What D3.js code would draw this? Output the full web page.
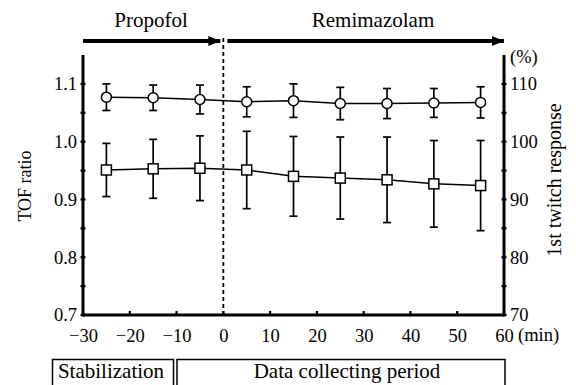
<!DOCTYPE html>
<html><head><meta charset="utf-8">
<script src="https://cdn.jsdelivr.net/npm/d3@7"></script>
<style>
html,body{margin:0;padding:0;background:#fff;}
svg{display:block;}
svg text{font-family:"Liberation Serif","Times New Roman",serif;}
</style></head>
<body><svg id="c" width="576" height="385"></svg>
<script>
const times = [-25, -15, -5, 5, 15, 25, 35, 45, 55];
const tofMean = [1.077, 1.076, 1.073, 1.069, 1.071, 1.066, 1.066, 1.067, 1.068];
const tofSD = [0.023, 0.022, 0.025, 0.026, 0.029, 0.028, 0.026, 0.025, 0.027];
const twitchMean = [95.1, 95.3, 95.4, 95.1, 94.0, 93.7, 93.4, 92.7, 92.4];
const twitchSD = [4.6, 5.1, 5.6, 6.7, 6.9, 7.1, 7.4, 7.5, 7.8];
const xTicks = [-30, -20, -10, 0, 10, 20, 30, 40, 50, 60];
const leftTicks = [0.7, 0.8, 0.9, 1.0, 1.1];
const leftMinor = [0.75, 0.85, 0.95, 1.05];
const rightTicks = [70, 80, 90, 100, 110];
const rightMinor = [75, 85, 95, 105];
const phases = ["Propofol", "Remimazolam"];
const periods = ["Stabilization", "Data collecting period"];

const svg = d3.select("#c");
const x = d3.scaleLinear().domain([-30, 60]).range([83, 504]);
const yL = d3.scaleLinear().domain([0.7, 1.15]).range([315, 55]);
const yR = d3.scaleLinear().domain([70, 115]).range([315, 55]);

// dashed line at 0
svg.append("line").attr("x1", x(0)).attr("x2", x(0)).attr("y1", 38).attr("y2", 315)
  .attr("stroke", "#000").attr("stroke-width", 1.8).attr("stroke-dasharray", "4,3");

// arrows
const defs = svg.append("defs");
defs.append("marker").attr("id", "ah").attr("viewBox", "0 0 12 10").attr("refX", 12).attr("refY", 5)
  .attr("markerWidth", 12).attr("markerHeight", 10).attr("markerUnits", "userSpaceOnUse").attr("orient", "auto")
  .append("path").attr("d", "M0,0L12,5L0,10Z").attr("fill", "#000");
svg.append("line").attr("x1", x(-30)).attr("x2", x(0) - 3).attr("y1", 41).attr("y2", 41)
  .attr("stroke", "#000").attr("stroke-width", 4).attr("marker-end", "url(#ah)");
svg.append("line").attr("x1", x(0) + 4).attr("x2", x(60)).attr("y1", 41).attr("y2", 41)
  .attr("stroke", "#000").attr("stroke-width", 4).attr("marker-end", "url(#ah)");
svg.append("text").attr("x", 151).attr("y", 27).attr("text-anchor", "middle")
  .attr("font-size", 21).text(phases[0]);
svg.append("text").attr("x", 373).attr("y", 27).attr("text-anchor", "middle")
  .attr("font-size", 21).text(phases[1]);

// axes
const axL = svg.append("g").attr("transform", `translate(${x(-30)},0)`)
  .call(d3.axisLeft(yL).tickValues(leftTicks).tickFormat(d3.format(".1f")).tickSize(0).tickPadding(6));
const axR = svg.append("g").attr("transform", `translate(${x(60)},0)`)
  .call(d3.axisRight(yR).tickValues(rightTicks).tickSize(0).tickPadding(6));
const axB = svg.append("g").attr("transform", `translate(0,${yL(0.7)})`)
  .call(d3.axisBottom(x).tickValues(xTicks).tickSize(0).tickPadding(14));
[axL, axR, axB].forEach(g => {
  g.attr("font-family", null);
  g.select(".domain").remove();
  g.selectAll("text").attr("font-size", 18.5).attr("fill", "#000");
});
// axis lines
svg.append("line").attr("x1", x(-30)).attr("x2", x(-30)).attr("y1", yL(1.15)).attr("y2", yL(0.7) + 1.5)
  .attr("stroke", "#000").attr("stroke-width", 3);
svg.append("line").attr("x1", x(60)).attr("x2", x(60)).attr("y1", yR(115)).attr("y2", yL(0.7) + 1.5)
  .attr("stroke", "#000").attr("stroke-width", 3);
svg.append("line").attr("x1", x(-30)).attr("x2", x(60)).attr("y1", yL(0.7)).attr("y2", yL(0.7))
  .attr("stroke", "#000").attr("stroke-width", 3);
// tick dots
const tickG = svg.append("g").attr("stroke", "#000").attr("stroke-width", 2.2);
leftTicks.concat(leftMinor).forEach(v => tickG.append("line")
  .attr("x1", x(-30) - 2.5).attr("x2", x(-30) + 2.5).attr("y1", yL(v)).attr("y2", yL(v)));
rightTicks.concat(rightMinor).forEach(v => tickG.append("line")
  .attr("x1", x(60) - 2.5).attr("x2", x(60) + 2.5).attr("y1", yR(v)).attr("y2", yR(v)));
xTicks.forEach(v => tickG.append("line")
  .attr("x1", x(v)).attr("x2", x(v)).attr("y1", yL(0.7) - 4).attr("y2", yL(0.7) + 1));

svg.append("text").attr("x", 510).attr("y", 63).attr("font-size", 18.5).text("(%)");
svg.append("text").attr("x", 518).attr("y", 341).attr("font-size", 18.5).text("(min)");

svg.append("text").attr("transform", "translate(31,186) rotate(-90)").attr("text-anchor", "middle")
  .attr("font-size", 18).text("TOF ratio");
svg.append("text").attr("transform", "translate(561,180) rotate(-90)").attr("text-anchor", "middle")
  .attr("font-size", 20).text("1st twitch response");

// data
const tof = times.map((t, i) => ({t, m: tofMean[i], sd: tofSD[i]}));
const tw = times.map((t, i) => ({t, m: twitchMean[i], sd: twitchSD[i]}));

function series(data, ys, shape) {
  const g = svg.append("g");
  g.append("path").datum(data).attr("fill", "none").attr("stroke", "#000").attr("stroke-width", 1.5)
    .attr("d", d3.line().x(d => x(d.t)).y(d => ys(d.m)));
  const eb = g.selectAll(".eb").data(data).enter().append("g").attr("stroke", "#000").attr("stroke-width", 1.7);
  eb.append("line").attr("x1", d => x(d.t)).attr("x2", d => x(d.t))
    .attr("y1", d => ys(d.m + d.sd)).attr("y2", d => ys(d.m - d.sd));
  eb.append("line").attr("x1", d => x(d.t) - 4).attr("x2", d => x(d.t) + 4)
    .attr("y1", d => ys(d.m + d.sd)).attr("y2", d => ys(d.m + d.sd));
  eb.append("line").attr("x1", d => x(d.t) - 4).attr("x2", d => x(d.t) + 4)
    .attr("y1", d => ys(d.m - d.sd)).attr("y2", d => ys(d.m - d.sd));
  if (shape === "circle") {
    g.selectAll(".mk").data(data).enter().append("circle").attr("cx", d => x(d.t)).attr("cy", d => ys(d.m))
      .attr("r", 5).attr("fill", "#fff").attr("stroke", "#000").attr("stroke-width", 1.5);
  } else {
    g.selectAll(".mk").data(data).enter().append("rect").attr("x", d => x(d.t) - 5).attr("y", d => ys(d.m) - 5)
      .attr("width", 10).attr("height", 10).attr("fill", "#fff").attr("stroke", "#000").attr("stroke-width", 1.5);
  }
}
series(tof, yL, "circle");
series(tw, yR, "square");

// bottom boxes
const bx = svg.append("g").attr("fill", "none").attr("stroke", "#000").attr("stroke-width", 1.5);
bx.append("path").attr("d", `M52.5,390V359.5H173.5V390`);
bx.append("path").attr("d", `M177,390V359.5H505V390`);
svg.append("text").attr("x", 111).attr("y", 378).attr("text-anchor", "middle").attr("font-size", 21).text(periods[0]);
svg.append("text").attr("x", 347).attr("y", 378).attr("text-anchor", "middle").attr("font-size", 21).text(periods[1]);
</script></body></html>
